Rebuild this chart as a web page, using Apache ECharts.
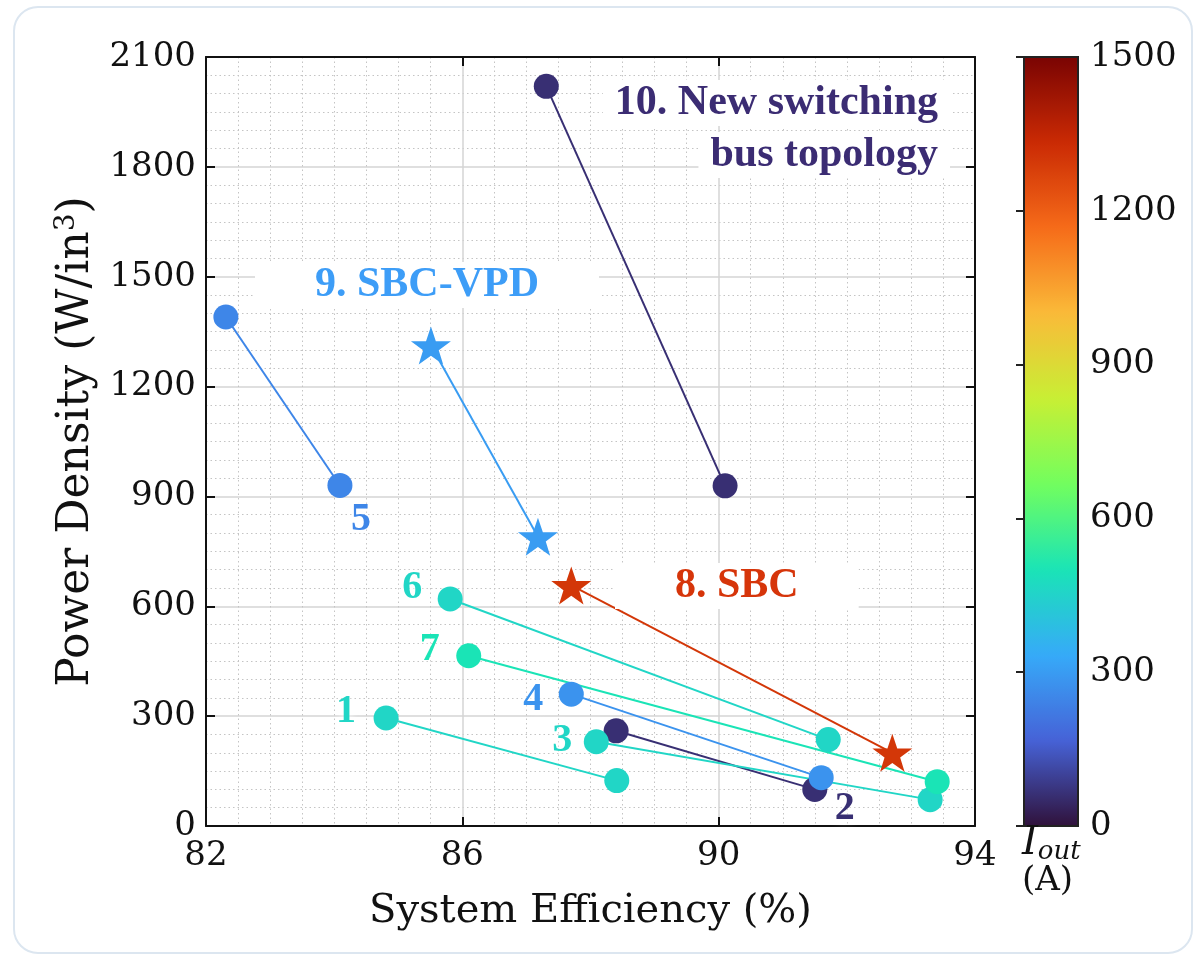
<!DOCTYPE html>
<html>
<head>
<meta charset="utf-8">
<script src="https://cdn.jsdelivr.net/npm/echarts@6/dist/echarts.min.js"></script>
<style>
  html, body { margin: 0; padding: 0; background: #fff; }
  #chart { width: 1195px; height: 963px; }
</style>
</head>
<body>
<div id="chart"></div>
<script>
// design points: each entry is one topology, start -> end
const groups = ['1', '2', '3', '4', '5', '6', '7', '8', '9', '10']
const effStart = [84.81, 88.40, 88.09, 87.70, 82.31, 85.81, 86.10, 87.70, 85.51, 87.31]
const effEnd = [88.41, 91.50, 93.30, 91.60, 84.09, 91.71, 93.41, 92.71, 87.18, 90.10]
const densStart = [295, 260, 230, 360, 1390, 620, 465, 657, 1312, 2020]
const densEnd = [124, 100, 72, 132, 930, 236, 121, 200, 790, 929]
const iout = [460, 60, 460, 280, 250, 460, 500, 1300, 300, 60]
const markers = ['circle', 'circle', 'circle', 'circle', 'circle', 'circle', 'circle', 'star', 'star', 'circle']

const xTicks = [82, 86, 90, 94]
const yTicks = [0, 300, 600, 900, 1200, 1500, 1800, 2100]
const cbTicks = [0, 300, 600, 900, 1200, 1500]

// turbo colormap, 10 evenly spaced samples
const TURBO = ['#30123b', '#4662d7', '#36aaf9', '#1ae4b6', '#72fe5e',
  '#c8ef34', '#faba39', '#f66b19', '#ca2a04', '#7a0403']
const IOUT_MAX = 1500

function turbo(v) {
  const t = Math.max(0, Math.min(1, v / IOUT_MAX)) * (TURBO.length - 1)
  const i = Math.min(Math.floor(t), TURBO.length - 2)
  const f = t - i
  const a = TURBO[i], b = TURBO[i + 1]
  const c = k => Math.round(parseInt(a.substr(k, 2), 16) * (1 - f) + parseInt(b.substr(k, 2), 16) * f)
  return `rgb(${c(1)},${c(3)},${c(5)})`
}

// number label next to one end of a pair (which end, dx, dy)
const numLabel = {
  '1': { end: 0, off: [-40, -6] },
  '2': { end: 1, off: [30, 19] },
  '3': { end: 0, off: [-34, -1] },
  '4': { end: 0, off: [-38, 6] },
  '5': { end: 1, off: [21, 34] },
  '6': { end: 0, off: [-38, -11] },
  '7': { end: 0, off: [-39, -6] },
}

const STAR = 'path://M50,0 L61.8,35.1 L98.1,35.1 L68.8,56.8 L79.4,91 L50,70 L20.6,91 L31.2,56.8 L1.9,35.1 L38.2,35.1 Z'
const SERIF = '"DejaVu Serif", serif'
const TIMES = '"Liberation Serif", "Times New Roman", serif'
const plain = v => String(v)

const points = []
groups.forEach((g, i) => {
  [[effStart[i], densStart[i]], [effEnd[i], densEnd[i]]].forEach((p, k) => {
    const item = {
      value: [p[0], p[1], iout[i]],
      symbol: markers[i] === 'star' ? STAR : 'circle',
      symbolSize: markers[i] === 'star' ? [40, 38] : 25,
    }
    const nl = numLabel[g]
    if (nl && nl.end === k) {
      item.label = {
        show: true, formatter: g, position: 'inside', offset: nl.off,
        fontFamily: TIMES, fontWeight: 'bold', fontSize: 40, color: turbo(iout[i]),
        textShadowColor: '#fff', textShadowBlur: 8,
      }
    }
    points.push(item)
  })
})

const lines = groups.map((g, i) => ({
  type: 'line',
  data: [[effStart[i], densStart[i]], [effEnd[i], densEnd[i]]],
  showSymbol: false,
  silent: true,
  z: 2,
  lineStyle: { color: turbo(iout[i]), width: 2 },
}))

const axisCommon = {
  axisLine: { show: true, onZero: false, lineStyle: { color: '#111', width: 2 } },
  axisTick: { show: true, inside: true, length: 9, lineStyle: { color: '#111', width: 2 } },
}

const chart = echarts.init(document.getElementById('chart'))
chart.setOption({
  animation: false,
  grid: [
    { left: 206, right: 220, top: 57, bottom: 137 },
    { left: 1024, width: 54, top: 57, height: 769, show: true, borderColor: '#222', borderWidth: 2, z: 10 },
  ],
  xAxis: [
    {
      type: 'value', min: xTicks[0], max: xTicks[xTicks.length - 1], interval: 4,
      ...axisCommon,
      axisLabel: { color: '#111', fontFamily: SERIF, fontSize: 34, margin: 13, formatter: plain },
      splitLine: { show: true, lineStyle: { color: '#d4d4d4', width: 1.5 } },
      minorTick: { show: false, splitNumber: 8 },
      minorSplitLine: { show: true, lineStyle: { color: '#c4c4c4', width: 1, type: [1.5, 3] } },
      name: 'System Efficiency (%)', nameLocation: 'middle', nameGap: 66,
      nameTextStyle: { color: '#111', fontFamily: SERIF, fontSize: 40 },
    },
    {
      type: 'value', position: 'top', min: xTicks[0], max: xTicks[xTicks.length - 1], interval: 4,
      ...axisCommon, axisLabel: { show: false }, splitLine: { show: false },
    },
    { type: 'value', gridIndex: 1, show: false, min: 0, max: 1 },
  ],
  yAxis: [
    {
      type: 'value', min: yTicks[0], max: yTicks[yTicks.length - 1], interval: 300,
      ...axisCommon,
      axisLabel: { color: '#111', fontFamily: SERIF, fontSize: 34, margin: 10, formatter: plain },
      splitLine: { show: true, lineStyle: { color: '#d4d4d4', width: 1.5 } },
      minorTick: { show: false, splitNumber: 6 },
      minorSplitLine: { show: true, lineStyle: { color: '#c4c4c4', width: 1, type: [1.5, 3] } },
      name: 'Power Density (W/in{sup|3})', nameLocation: 'middle', nameGap: 104,
      nameTextStyle: {
        color: '#111', fontFamily: SERIF, fontSize: 44,
        rich: { sup: { fontFamily: SERIF, fontSize: 28, color: '#111', padding: [0, 0, 20, 0] } },
      },
    },
    {
      type: 'value', position: 'right', min: yTicks[0], max: yTicks[yTicks.length - 1], interval: 300,
      ...axisCommon, axisLabel: { show: false }, splitLine: { show: false },
    },
    {
      type: 'value', gridIndex: 1, position: 'right', min: cbTicks[0], max: cbTicks[cbTicks.length - 1], interval: 300,
      axisLine: { show: false },
      axisTick: { show: true, inside: true, length: 8, lineStyle: { color: '#222', width: 2 } },
      axisLabel: { color: '#111', fontFamily: SERIF, fontSize: 34, margin: 12, formatter: plain },
      splitLine: { show: false },
    },
  ],
  visualMap: {
    type: 'continuous', min: 0, max: IOUT_MAX, dimension: 2, seriesIndex: 0,
    orient: 'vertical', left: 1024, top: 57, itemWidth: 54, itemHeight: 769,
    padding: 0, calculable: false, showLabel: false, text: null, hoverLink: false,
    inRange: { color: TURBO },
  },
  series: [
    { type: 'scatter', data: points, z: 3, silent: true, itemStyle: { opacity: 1 } },
    ...lines,
  ],
  graphic: [
    {
      type: 'rect', z: -10, silent: true,
      shape: { x: 14, y: 7, width: 1178, height: 946, r: 24 },
      style: { fill: 'none', stroke: '#dce6f0', lineWidth: 2 },
    },
    {
      type: 'text', z: 50, left: 255, top: 262,
      style: {
        text: '9. SBC-VPD', font: 'bold 42px ' + TIMES, fill: '#3d9df7',
        backgroundColor: '#fff', padding: [2, 60, 2, 60],
      },
    },
    {
      type: 'text', z: 50, left: 615, top: 563,
      style: {
        text: '8. SBC', font: 'bold 42px ' + TIMES, fill: '#d6350a',
        backgroundColor: '#fff', padding: [2, 60, 2, 60],
      },
    },
    {
      type: 'text', z: 50, right: 245, top: 80,
      style: {
        text: '10. New switching', font: 'bold 42px ' + TIMES, fill: '#3b2c73',
        backgroundColor: '#fff', padding: [2, 12, 2, 12],
      },
    },
    {
      type: 'text', z: 50, right: 245, top: 132,
      style: {
        text: 'bus topology', font: 'bold 42px ' + TIMES, fill: '#3b2c73',
        backgroundColor: '#fff', padding: [2, 12, 2, 12],
      },
    },
    {
      type: 'text', z: 50, left: 1022, top: 824,
      style: {
        text: '{i|I}{s|out}',
        rich: {
          i: { font: 'italic 40px ' + SERIF, fill: '#111' },
          s: { font: 'italic 26px ' + SERIF, fill: '#111', padding: [16, 0, 0, 0] },
        },
      },
    },
    {
      type: 'text', z: 50, left: 1022, top: 864,
      style: { text: '(A)', font: '34px ' + SERIF, fill: '#111' },
    },
  ],
})
</script>
</body>
</html>
